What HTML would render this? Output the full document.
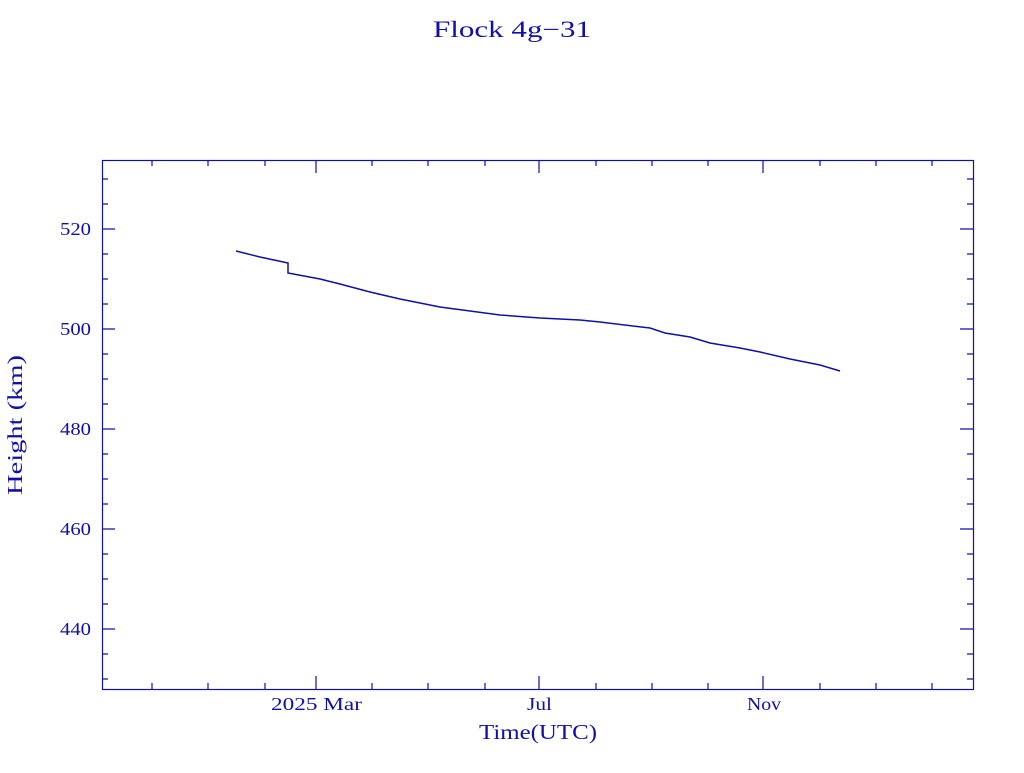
<!DOCTYPE html>
<html><head><meta charset="utf-8"><style>html,body{margin:0;padding:0;background:#fff}</style></head>
<body>
<svg width="1024" height="768" xmlns="http://www.w3.org/2000/svg" font-family="Liberation Serif, serif" fill="#1010a8">
<text x="433" y="37" font-size="23" textLength="158" lengthAdjust="spacingAndGlyphs">Flock 4g−31</text>
<rect x="102.5" y="160.5" width="871" height="529" fill="none" stroke="#1010a8" stroke-width="1.2"/>
<g stroke="#1010a8" stroke-width="1.2">
<path d="M102 229h13M102 329h13M102 429h13M102 529h13M102 629h13M973 229h-13M973 329h-13M973 429h-13M973 529h-13M973 629h-13"/>
<path d="M102 179h6M102 204h6M102 254h6M102 279h6M102 304h6M102 354h6M102 379h6M102 404h6M102 454h6M102 479h6M102 504h6M102 554h6M102 579h6M102 604h6M102 654h6M102 679h6
M973 179h-6M973 204h-6M973 254h-6M973 279h-6M973 304h-6M973 354h-6M973 379h-6M973 404h-6M973 454h-6M973 479h-6M973 504h-6M973 554h-6M973 579h-6M973 604h-6M973 654h-6M973 679h-6"/>
<path d="M316 689v-13M539 689v-13M763 689v-13M316 160v13M539 160v13M763 160v13
M152 689v-6M208 689v-6M265 689v-6M372 689v-6M428 689v-6M485 689v-6M596 689v-6M652 689v-6M708 689v-6M820 689v-6M876 689v-6M932 689v-6
M152 160v6M208 160v6M265 160v6M372 160v6M428 160v6M485 160v6M596 160v6M652 160v6M708 160v6M820 160v6M876 160v6M932 160v6"/>
</g>
<g font-size="18">
<text x="60" y="235" textLength="31" lengthAdjust="spacingAndGlyphs">520</text>
<text x="60" y="335" textLength="31" lengthAdjust="spacingAndGlyphs">500</text>
<text x="60" y="435" textLength="31" lengthAdjust="spacingAndGlyphs">480</text>
<text x="60" y="535" textLength="31" lengthAdjust="spacingAndGlyphs">460</text>
<text x="60" y="635" textLength="31" lengthAdjust="spacingAndGlyphs">440</text>
<text x="271" y="710" textLength="91" lengthAdjust="spacingAndGlyphs">2025 Mar</text>
<text x="527" y="710" textLength="25" lengthAdjust="spacingAndGlyphs">Jul</text>
<text x="747" y="710" textLength="34" lengthAdjust="spacingAndGlyphs">Nov</text>
</g>
<text x="479" y="739" font-size="21" textLength="118" lengthAdjust="spacingAndGlyphs">Time(UTC)</text>
<text transform="translate(22,495) rotate(-90)" font-size="21" textLength="140" lengthAdjust="spacingAndGlyphs">Height (km)</text>
<polyline fill="none" stroke="#1010a8" stroke-width="1.5" points="236,251 260,257 288,263 288,273 320,279 340,284 370,292 400,299 440,307 470,311 500,315 540,318 580,320 600,322 650,328 665,333 690,337 710,343 740,348 760,352 790,359 820,365 840,371"/>
</svg>
</body></html>
